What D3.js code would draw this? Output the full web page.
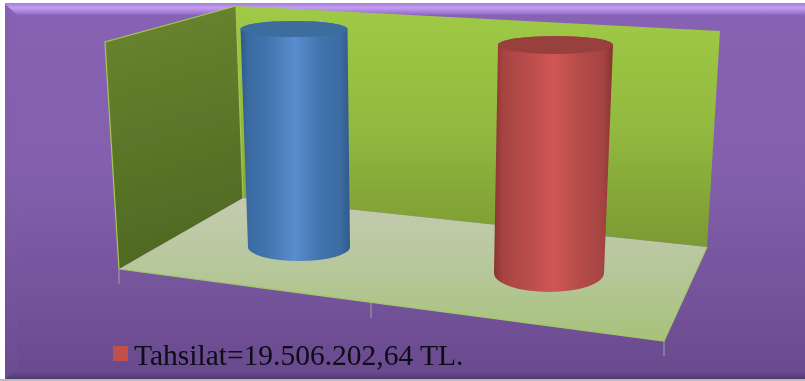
<!DOCTYPE html>
<html><head><meta charset="utf-8">
<script src="https://cdn.jsdelivr.net/npm/d3@7/dist/d3.min.js"></script>
<style>html,body{margin:0;padding:0;background:#fff}svg{display:block}</style>
</head><body><div id="c"></div>
<script>
// DATA
const categories = ["Tahakkuk", "Tahsilat"];
const seriesValues = [19506202.64, 19506202.64];
const tickSlots = [0, 1, 2];
const legendLabel = "Tahsilat=19.506.202,64 TL.";
const seriesTop = ["#3e6c9f", "#983f3d"];
const seriesDark = ["#4274ae", "#b54c4a"];
const seriesLight = ["#5a8dcf", "#d05654"];
const seriesRim = ["#2f5a8a", "#873331"];
const legendColor = "#c0504d";

const W = 805, H = 381;
const svg = d3.select("#c").append("svg").attr("width", W).attr("height", H);
const defs = svg.append("defs");
function grad(id, stops, x1=0, y1=0, x2=0, y2=1) {
  const g = defs.append("linearGradient").attr("id", id)
    .attr("x1", x1).attr("y1", y1).attr("x2", x2).attr("y2", y2);
  stops.forEach(([o, c]) => g.append("stop").attr("offset", o).attr("stop-color", c));
}
const f = defs.append("filter").attr("id", "soft").attr("x", "-2%").attr("y", "-2%").attr("width", "104%").attr("height", "104%");
f.append("feGaussianBlur").attr("stdDeviation", 0.45);

grad("bg", [[0, "#8862b4"], [0.45, "#8360ad"], [1, "#694a8d"]]);
grad("bevelTop", [[0, "#a884da"], [0.35, "#c39cf2"], [0.75, "#a37cd6"], [1, "#8e68bc"]]);
grad("bevelBot", [[0, "#6a4b8e"], [0.5, "#5e4280"], [1, "#4f3a6c"]]);
grad("bevelLeft", [[0, "#7652a0"], [1, "#8360ad"]], 0, 0, 1, 0);
grad("back", [[0, "#9fca46"], [0.5, "#93b93f"], [1, "#7c9a33"]]);
grad("left", [[0, "#6a862f"], [1, "#4f6923"]], 0, 0, 0.15, 1);
grad("floor", [[0, "#c3cbb0"], [0.5, "#b6c79a"], [1, "#a7c27a"]]);
categories.forEach((c, i) => {
  const mid = d3.interpolateRgb(seriesDark[i], seriesRim[i])(0.35);
  grad("cyl" + i, [[0, seriesRim[i]], [0.07, mid], [0.25, seriesDark[i]], [0.5, seriesLight[i]], [0.72, seriesDark[i]], [0.92, mid], [1, seriesRim[i]]], 0, 0, 1, 0);
});

const root = svg.append("g").attr("filter", "url(#soft)");

// Page and bevelled frame
root.append("rect").attr("x", 5).attr("y", 3).attr("width", W - 5).attr("height", 376).attr("fill", "url(#bg)");
root.append("rect").attr("x", 5).attr("y", 3).attr("width", W - 5).attr("height", 1.4).attr("fill", "#9b93a6");
root.append("path").attr("d", `M5,4 L${W},4 L${W},15 L17,15 Z`).attr("fill", "url(#bevelTop)");
root.append("path").attr("d", `M5,4 L17,15 L17,370 L5,379 Z`).attr("fill", "url(#bevelLeft)").attr("opacity", 0.12);
root.append("path").attr("d", `M5,379 L12,372 L${W},372 L${W},379 Z`).attr("fill", "url(#bevelBot)");
root.append("rect").attr("x", 0).attr("y", 379).attr("width", W).attr("height", 2).attr("fill", "#b9b9c0");

// 3D box
const line = d3.line();
root.append("path").attr("d", line([[236, 6], [720, 31], [707, 247], [243, 198]]) + "Z").attr("fill", "url(#back)");
root.append("path").attr("d", line([[105, 42], [236, 6], [243, 198], [119, 269]]) + "Z").attr("fill", "url(#left)");
root.append("path").attr("d", line([[236, 6], [105, 42], [119, 269]])).attr("fill", "none").attr("stroke", "#a5c94f").attr("stroke-width", 1.2);
root.append("path").attr("d", line([[236, 6], [243, 198]])).attr("fill", "none").attr("stroke", "#a5c94f").attr("stroke-width", 1.2);
root.append("path").attr("d", line([[119, 269], [243, 198], [707, 247], [664, 341]]) + "Z").attr("fill", "url(#floor)");
root.append("path").attr("d", line([[119, 269], [664, 341], [707, 247]])).attr("fill", "none").attr("stroke", "#a4c66c").attr("stroke-width", 1.2);

// Axis ticks along the front edge of the floor
const tickX = d3.scaleLinear().domain(tickSlots).range([119, 371, 664]);
const tickY = d3.scaleLinear().domain(tickSlots).range([269, 303, 341]);
root.append("g").selectAll("line").data(tickSlots).join("line")
  .attr("x1", d => tickX(d)).attr("x2", d => tickX(d))
  .attr("y1", d => tickY(d)).attr("y2", d => tickY(d) + 15)
  .attr("stroke", "#a3a3a3").attr("stroke-width", 1);

// Cylinders: perspective shown by a separate band of scales for base and cap
const baseX = d3.scalePoint().domain(categories).range([299, 549]);
const capX = d3.scalePoint().domain(categories).range([294, 555.5]);
const baseY = d3.scalePoint().domain(categories).range([247, 273]);
const baseRx = d3.scaleOrdinal().domain(categories).range([51, 55]);
const capRx = d3.scaleOrdinal().domain(categories).range([53.5, 57.5]);
const baseRy = d3.scaleOrdinal().domain(categories).range([14, 19]);
const capRy = d3.scaleOrdinal().domain(categories).range([8, 9]);
const depth = d3.scaleOrdinal().domain(categories).range([1, 1.046]);
const height = d3.scaleLinear().domain([0, 19506202.64]).range([0, 218]);

const cyl = root.append("g").selectAll("g").data(categories).join("g");
cyl.append("path").attr("d", c => {
  const v = seriesValues[categories.indexOf(c)];
  const by = baseY(c), ty = by - height(v) * depth(c);
  const bx = baseX(c), tx = capX(c), brx = baseRx(c), trx = capRx(c), bry = baseRy(c), tr = capRy(c);
  return `M${tx - trx},${ty} A${trx},${tr} 0 0 1 ${tx + trx},${ty} L${bx + brx},${by} A${brx},${bry} 0 0 1 ${bx - brx},${by} Z`;
}).attr("fill", (c, i) => `url(#cyl${i})`);
cyl.append("ellipse")
  .attr("cx", capX).attr("cy", c => baseY(c) - height(seriesValues[categories.indexOf(c)]) * depth(c))
  .attr("rx", capRx).attr("ry", capRy)
  .attr("fill", (c, i) => seriesTop[i]);

// Legend
root.append("rect").attr("x", 113).attr("y", 346).attr("width", 15).attr("height", 15).attr("fill", legendColor);
root.append("text").attr("x", 134).attr("y", 365)
  .attr("font-family", "'Liberation Serif', serif").attr("font-size", 29.5).attr("fill", "#0a0a14")
  .text(legendLabel);
</script></body></html>
